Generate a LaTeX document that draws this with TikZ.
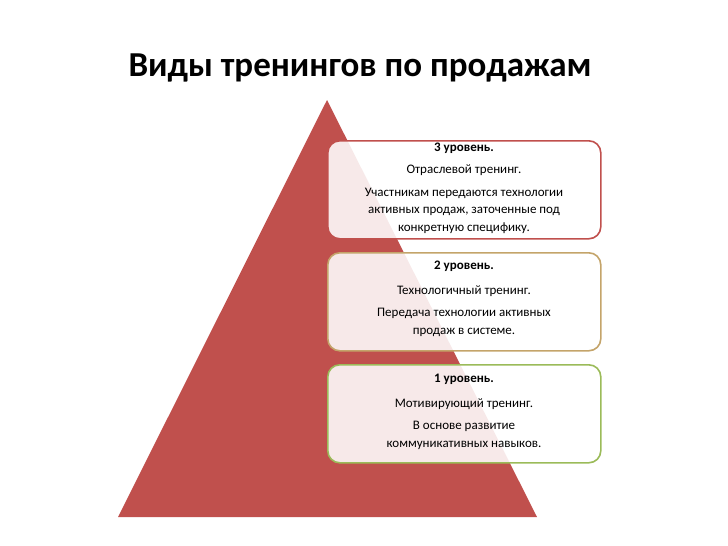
\documentclass[tikz,border=0pt]{standalone}
\usepackage{fontspec}
\setmainfont{Carlito}
\begin{document}
\begin{tikzpicture}[x=1pt,y=-1pt,
  lvl/.style={draw=#1,line width=1.6pt,rounded corners=12pt,fill=white,fill opacity=0.88,minimum width=273pt,minimum height=98pt,inner sep=0pt,anchor=north west},
  txt/.style={align=center,font=\fontsize{13}{17.5}\selectfont,text opacity=1,anchor=center}]
\useasboundingbox (0,0) rectangle (728,546);
\definecolor{tri}{HTML}{C0504D}
\definecolor{tan}{HTML}{C4A46A}
\definecolor{grn}{HTML}{9BBB59}
\node[font=\bfseries\fontsize{35}{40}\selectfont,anchor=center] (title) at (360,68) {Виды тренингов по продажам};
\fill[tri] (327,100) coordinate (apex) -- (537,517) coordinate (br) -- (118,517) coordinate (bl) -- cycle;
\node[lvl=tri] (b3) at (327,140) {};
\node[lvl=tan] (b2) at (327,252) {};
\node[lvl=grn] (b1) at (327,364) {};
\node[txt] (t3) at (464,188) {\textbf{3 уровень.}\\[5pt]Отраслевой тренинг.\\[5pt]Участникам передаются технологии\\активных продаж, заточенные под\\конкретную специфику.};
\node[txt] (t2) at (464,299) {\textbf{2 уровень.}\\[7pt]Технологичный тренинг.\\[5pt]Передача технологии активных\\продаж в системе.};
\node[txt] (t1) at (464,412) {\textbf{1 уровень.}\\[7pt]Мотивирующий тренинг.\\[5pt]В основе развитие\\коммуникативных навыков.};
\end{tikzpicture}
\end{document}
